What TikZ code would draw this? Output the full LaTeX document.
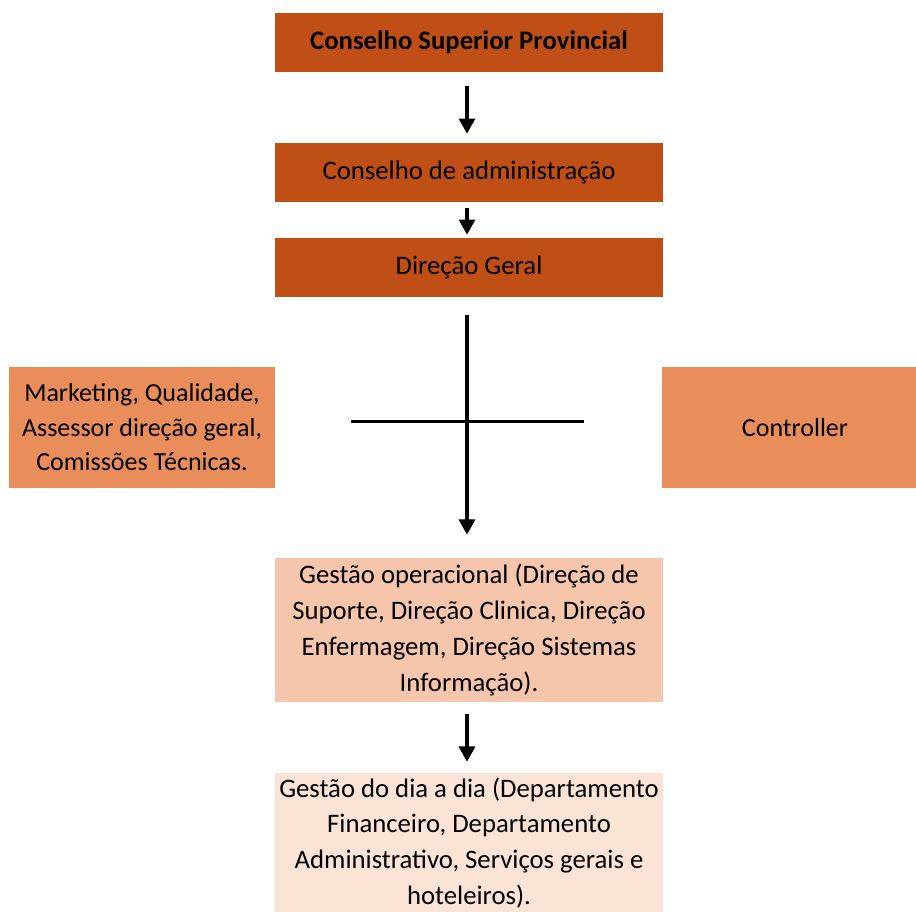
\documentclass[tikz,border=0pt]{standalone}
\usepackage{fontspec}
\setmainfont{Carlito}
\usetikzlibrary{arrows.meta,positioning,calc}
\definecolor{HeadOrange}{HTML}{C04F15}
\definecolor{SideOrange}{HTML}{E98E5B}
\definecolor{OpPeach}{HTML}{F6C6AC}
\definecolor{DayPeach}{HTML}{FBE3D6}

\begin{document}
\begin{tikzpicture}[
  x=0.025cm,y=-0.025cm,
  every node/.style={font=\fontsize{19}{25.5}\selectfont,align=center,inner sep=0pt},
  hbox/.style={fill=HeadOrange,minimum width=9.7cm,minimum height=1.475cm},
  sidebox/.style={fill=SideOrange,minimum width=6.65cm,minimum height=3.025cm,font=\fontsize{18.5}{24.5}\selectfont},
  opbox/.style={fill=OpPeach,minimum width=9.7cm,minimum height=3.6cm},
  daybox/.style={fill=DayPeach,minimum width=9.7cm,minimum height=3.5cm},
  arr/.style={-{Triangle[length=3.8mm,width=4mm]},line width=0.08cm}
]
\useasboundingbox (0,0) rectangle (916,912);
\clip (0,0) rectangle (916,912);
% main column
\node[hbox] (csp) at (469,42.5) {\textbf{Conselho Superior Provincial}};
\node[hbox] (cadm) at (469,172.5) {Conselho de administração};
\node[hbox] (dg) at (469,267.5) {Direção Geral};
% staff boxes
\node[sidebox] (staff) at (142,427.5) {Marketing, Qualidade,\\Assessor direção geral,\\Comissões Técnicas.};
\node[sidebox] (ctrl) at (795,427.5) {Controller};
% operational levels
\node[opbox] (gop) at (469,630) {Gestão operacional (Direção de\\Suporte, Direção Clinica, Direção\\Enfermagem, Direção Sistemas\\Informação).};
\node[daybox] (gdd) at (469,843) {Gestão do dia a dia (Departamento\\Financeiro, Departamento\\Administrativo, Serviços gerais e\\hoteleiros).};
\draw[arr,shorten <=0.35cm,shorten >=0.225cm] ([xshift=-0.05cm]csp.south) -- ([xshift=-0.05cm]cadm.north);
\draw[arr,shorten <=0.15cm,shorten >=0.075cm] ([xshift=-0.05cm]cadm.south) -- ([xshift=-0.05cm]dg.north);
\draw[arr,shorten <=0.45cm,shorten >=0.575cm] ([xshift=-0.05cm]dg.south) -- ([xshift=-0.05cm]gop.north);
\draw[line width=0.08cm,shorten <=1.9cm,shorten >=1.95cm] ([yshift=0.14cm]staff.east) -- ([yshift=0.14cm]ctrl.west);
\draw[arr,shorten <=0.3cm,shorten >=0.275cm] ([xshift=-0.05cm]gop.south) -- ([xshift=-0.05cm]gdd.north);
\end{tikzpicture}
\end{document}
